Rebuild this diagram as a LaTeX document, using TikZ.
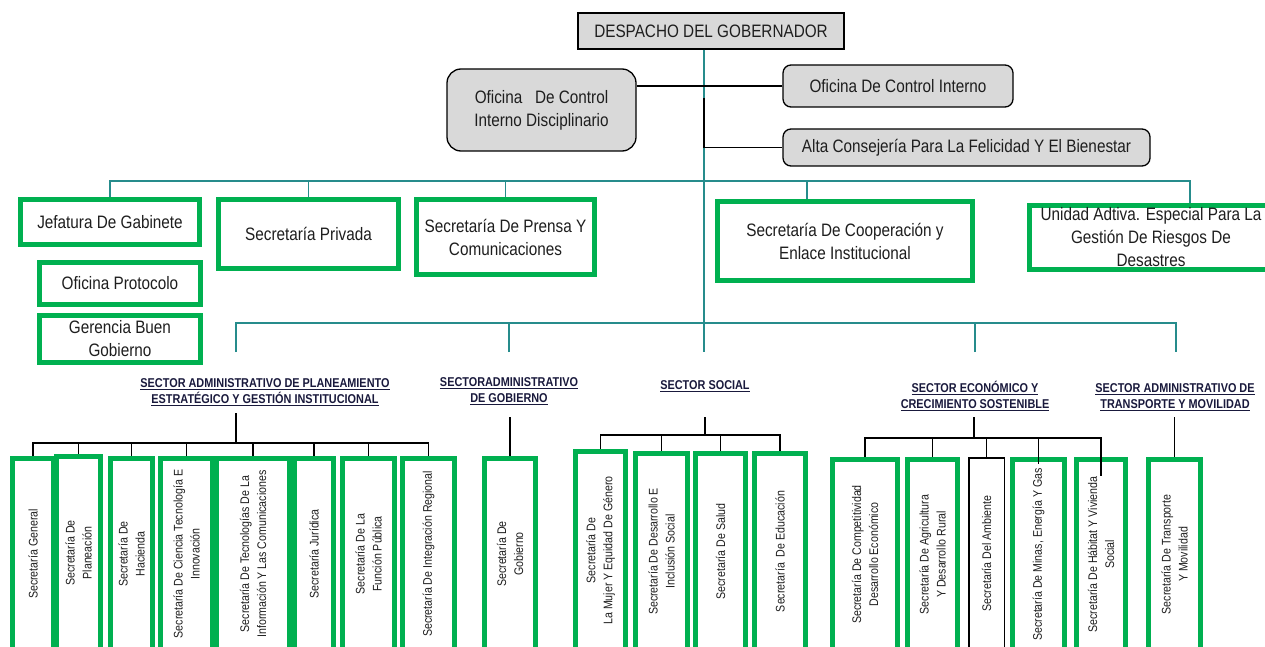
\documentclass[tikz,border=0pt]{standalone}
\usepackage{fontspec}
\setmainfont{Liberation Sans}[FakeStretch=0.85]
\usetikzlibrary{calc}
\definecolor{gbox}{RGB}{0,176,80}
\definecolor{tealln}{RGB}{38,140,140}
\definecolor{grayfill}{RGB}{217,217,217}
\definecolor{txt}{RGB}{30,30,30}
\definecolor{navy}{RGB}{25,25,60}
\begin{document}
\begin{tikzpicture}[x=1pt,y=-1pt,
 graybox/.style={draw=black, line width=1.3pt, fill=grayfill, inner sep=0pt, align=center, font=\fontsize{18}{23}\selectfont, text=txt},
 greenbox/.style={draw=gbox, line width=5pt, fill=white, inner sep=0pt, align=center, font=\fontsize{18}{23}\selectfont, text=txt},
 vbox/.style={draw=gbox, line width=5pt, fill=white, inner sep=0pt, align=center, font=\fontsize{12.5}{17}\selectfont, text=txt, rotate=90},
 sector/.style={align=center, font=\bfseries\fontsize{12.8}{16}\selectfont, text=navy, inner sep=0pt},
 tline/.style={draw=tealln, line width=1.6pt},
 bline/.style={draw=black, line width=1.2pt},
]
\useasboundingbox (0,0) rectangle (1265,647);
\clip (0,0) rectangle (1265,647);
\fill[white] (0,0) rectangle (1265,647);

% ---------- top level ----------
\node[graybox, minimum width=266, minimum height=36] (desp) at (711,31) {DESPACHO DEL GOBERNADOR};
\node[graybox, rounded corners=14pt, minimum width=189, minimum height=82] (ocid) at (541.5,110) {Oficina\ \ \ De Control\\Interno Disciplinario};
\node[graybox, rounded corners=8pt, minimum width=230, minimum height=42] (oci) at (898,86) {Oficina De Control Interno};
\node[graybox, rounded corners=8pt, minimum width=367, minimum height=37] (alta) at (966.5,147.5) {Alta Consejería Para La Felicidad Y El Bienestar};

% ---------- second level ----------
\node[greenbox, minimum width=179, minimum height=45] (jef) at (110,222) {Jefatura De Gabinete};
\node[greenbox, minimum width=180, minimum height=69] (priv) at (308.5,234) {Secretaría Privada};
\node[greenbox, minimum width=178, minimum height=75] (pren) at (505.5,237) {Secretaría De Prensa Y\\Comunicaciones};
\node[greenbox, minimum width=255, minimum height=79] (coop) at (845,241) {Secretaría De Cooperación y\\Enlace Institucional};
\node[greenbox, minimum width=243, minimum height=64] (unid) at (1151,237.5) {Unidad Adtiva. Especial Para La\\Gestión De Riesgos De\\Desastres};
\node[greenbox, minimum width=161, minimum height=42] (prot) at (120,283.5) {Oficina Protocolo};
\node[greenbox, minimum width=161, minimum height=47] (ger) at (120,339) {Gerencia Buen\\Gobierno};

% ---------- sector labels ----------
\node[sector] (s1) at (265,392) {\underline{SECTOR ADMINISTRATIVO DE PLANEAMIENTO}\\\underline{ESTRATÉGICO Y GESTIÓN INSTITUCIONAL}};
\node[sector] (s2) at (509,391) {\underline{SECTORADMINISTRATIVO}\\\underline{DE GOBIERNO}};
\node[sector] (s3) at (705,386) {\underline{SECTOR SOCIAL}};
\node[sector] (s4) at (975,396) {\underline{SECTOR ECONÓMICO Y}\\\underline{CRECIMIENTO SOSTENIBLE}};
\node[sector] (s5) at (1175,397) {\underline{SECTOR ADMINISTRATIVO DE}\\\underline{TRANSPORTE Y MOVILIDAD}};

% ---------- bottom boxes (rotated: minimum width = vertical extent) ----------
\node[vbox, minimum width=191, minimum height=41] (v1) at (33,554) {Secretaría General};
\node[vbox, minimum width=193, minimum height=44] (v2) at (78.5,553) {Secretaría De\\Planeación};
\node[vbox, minimum width=191, minimum height=42] (v3) at (131.5,554) {Secretaría De\\Hacienda};
\node[vbox, minimum width=191, minimum height=52] (v4) at (186.5,554) {Secretaría De Ciencia Tecnología E\\Innovación};
\node[vbox, minimum width=191, minimum height=39] (v6) at (314,554) {Secretaría Jurídica};
\node[vbox, minimum width=191, minimum height=73] (v5) at (253,554) {Secretaría De Tecnologías De La\\Información Y Las Comunicaciones};
\node[vbox, minimum width=191, minimum height=52] (v7) at (368.5,554) {Secretaría De La\\Función Pública};
\node[vbox, minimum width=191, minimum height=52] (v8) at (428.5,554) {Secretaría De Integración Regional};

\node[vbox, minimum width=191, minimum height=51] (g1) at (510,554) {Secretaría De\\Gobierno};

\node[vbox, minimum width=198, minimum height=50] (c1) at (600.5,550.5) {Secretaría De\\La Mujer Y Equidad De Género};
\node[vbox, minimum width=196, minimum height=52] (c2) at (661.5,551.5) {Secretaría De Desarrollo E\\Inclusión Social};
\node[vbox, minimum width=196, minimum height=50] (c3) at (720.5,551.5) {Secretaría De Salud};
\node[vbox, minimum width=196, minimum height=51] (c4) at (780,551.5) {Secretaría\ \ De Educación};

\node[vbox, minimum width=190, minimum height=65] (e1) at (865,554.5) {Secretaría De Competitividad\\Desarrollo Económico};
\node[vbox, minimum width=190, minimum height=50] (e2) at (932.5,554.5) {Secretaría De Agricultura\\Y Desarrollo Rural};
\node[vbox, draw=black, line width=1.5pt, minimum width=191, minimum height=35.5] (e3) at (986.5,553.5) {Secretaría Del Ambiente};
\node[vbox, minimum width=190, minimum height=52] (e4) at (1038.5,554.5) {Secretaría De Minas, Energía Y Gas};
\node[vbox, minimum width=190, minimum height=49] (e5) at (1101,554.5) {Secretaría De Hábitat Y Vivienda\\Social};
\node[vbox, minimum width=190, minimum height=52] (t1) at (1174.5,554.5) {Secretaría De Transporte\\Y Movilidad};

% ---------- teal connectors ----------
\coordinate (tk) at (704,323);
\coordinate (b1) at (704,181);
\coordinate (cd) at ([xshift=-38pt]coop.north);
\coordinate (ud) at ([xshift=39pt]unid.north);
\draw[tline, line width=2pt] (desp.south -| tk) -- (tk);
\draw[tline] (jef.north) |- (b1);
\draw[tline] (b1) -| (ud);
\draw[tline] (priv.north) -- (priv.north |- b1);
\draw[tline] (pren.north) -- (pren.north |- b1);
\draw[tline] (cd) -- (cd |- b1);

\coordinate (d1) at (236,352);
\coordinate (d2) at (509,352);
\coordinate (d3) at (704,352);
\coordinate (d4) at (975,352);
\coordinate (d5) at (1176,352);
\draw[tline] (d1) |- (tk) -| (d5);
\draw[tline] (d2) -- (d2 |- tk);
\draw[tline] (tk) -- (d3);
\draw[tline] (d4) -- (d4 |- tk);

% ---------- black connectors (top) ----------
\draw[bline] (oci.west) -- (oci.west -| ocid.east);
\coordinate (k1) at (704,98);
\draw[bline] (k1) |- (alta.west);

% ---------- black connectors (sectors) ----------
\coordinate (p1) at (236,413);
\coordinate (q1) at (236,443);
\draw[bline] (p1) -- (q1);
\draw[bline] (v1.east) |- (q1) -| (v8.east);
\foreach \n in {v2,v3,v4,v5,v6,v7}{\draw[bline] (\n.east) -- (\n.east |- q1);}

\coordinate (p2) at (510,417);
\draw[bline] (p2) -- (g1.east);

\coordinate (p3) at (705,417);
\coordinate (q3) at (705,435);
\draw[bline] (p3) -- (q3);
\draw[bline] (c1.east) |- (q3) -| (c4.east);
\draw[bline] (c2.east) -- (c2.east |- q3);
\draw[bline] (c3.east) -- (c3.east |- q3);

\coordinate (p4) at (974,417);
\coordinate (q4) at (974,438);
\coordinate (e4d) at ([yshift=-6.5pt]e4.east);
\coordinate (e5d) at ([yshift=-19pt]e5.east);
\draw[bline] (p4) -- (q4);
\draw[bline] (e1.east) |- (q4) -| (e5d);
\draw[bline] (e2.east) -- (e2.east |- q4);
\draw[bline] (e3.east) -- (e3.east |- q4);
\draw[bline] (e4d) -- (e4d |- q4);

\coordinate (p5) at (1174.5,417);
\draw[bline] (p5) -- (t1.east);
\end{tikzpicture}
\end{document}
